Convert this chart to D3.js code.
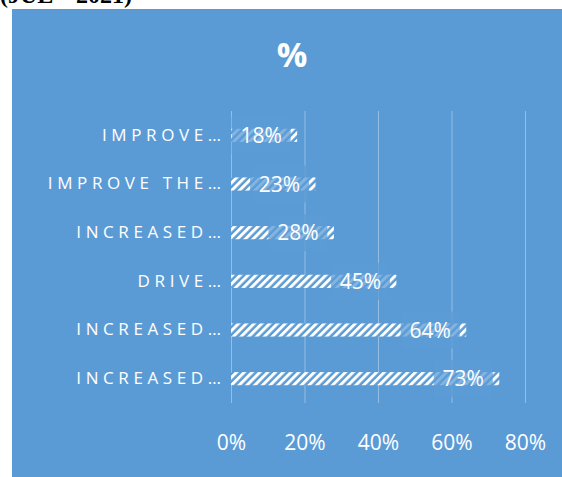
<!DOCTYPE html>
<html>
<head>
<meta charset="utf-8">
<script src="https://cdn.jsdelivr.net/npm/d3@7"></script>
<style>
    html, body { margin: 0; padding: 0; background: #ffffff; }
    svg { display: block; }
</style>
</head>
<body>
<div id="chart"></div>
<script>
// chart data, top to bottom as shown
const categories = ["IMPROVE…", "IMPROVE THE…", "INCREASED…", "DRIVE…", "INCREASED…", "INCREASED…"];
const values = [0.18, 0.23, 0.28, 0.45, 0.64, 0.73];
const xTicks = [0, 0.2, 0.4, 0.6, 0.8];
const chartTitle = "%";
const pageCaption = "(JUL – 2021)";

const width = 562;
const height = 477;
const panel = { x: 12, y: 9 };
const margin = ({ top: 111, right: 37, bottom: 74, left: 231 });
const blue = "#5B9BD5";

const svg = d3.select("#chart")
    .append("svg")
    .attr("width", width)
    .attr("height", height)
    .attr("viewBox", [0, 0, width, height]);

// caption of the page above the chart, cut off at the top
svg.append("text")
    .attr("x", 0)
    .attr("y", 3)
    .attr("font-family", "Liberation Serif")
    .attr("font-weight", "bold")
    .attr("font-size", 24)
    .attr("fill", "#000")
    .text(pageCaption);

svg.append("rect")
    .attr("x", panel.x)
    .attr("y", panel.y)
    .attr("width", width - panel.x)
    .attr("height", height - panel.y)
    .attr("fill", blue);

const defs = svg.append("defs");
const hatch = defs.append("pattern")
    .attr("id", "hatch")
    .attr("patternUnits", "userSpaceOnUse")
    .attr("width", 5.5)
    .attr("height", 5.5)
    .attr("patternTransform", "rotate(45)");
hatch.append("rect")
    .attr("width", 5.5)
    .attr("height", 5.5)
    .attr("fill", blue);
hatch.append("rect")
    .attr("width", 3)
    .attr("height", 5.5)
    .attr("fill", "#fff");

const xScale = d3.scaleLinear()
    .domain([0, 0.8])
    .range([margin.left, width - margin.right]);

const yScale = d3.scaleBand()
    .domain(d3.range(categories.length))
    .range([margin.top, height - margin.bottom])
    .paddingInner(0.73)
    .paddingOuter(0.365);

// gridlines
svg.append("g")
    .attr("transform", `translate(0,${height - margin.bottom})`)
    .call(d3.axisBottom(xScale)
        .tickValues(xTicks)
        .tickSize(-(height - margin.bottom - margin.top))
        .tickFormat(""))
    .call(g => g.select(".domain").remove())
    .call(g => g.selectAll("line")
        .attr("stroke", "#fff")
        .attr("stroke-opacity", 0.35));

// x tick labels
svg.append("g")
    .attr("transform", `translate(0,${height - margin.bottom})`)
    .call(d3.axisBottom(xScale)
        .tickValues(xTicks)
        .tickSize(0)
        .tickPadding(32)
        .tickFormat(d3.format(".0%")))
    .call(g => g.select(".domain").remove())
    .call(g => g.selectAll("text")
        .attr("fill", "#fff")
        .attr("font-family", "Open Sans")
        .attr("font-size", 21));

// category labels
const letterSpacing = 4.6;
svg.append("g")
    .attr("transform", `translate(${margin.left - 10 + letterSpacing},0)`)
    .call(d3.axisLeft(yScale)
        .tickSize(0)
        .tickPadding(0)
        .tickFormat(i => categories[i]))
    .call(g => g.select(".domain").remove())
    .call(g => g.selectAll("text")
        .attr("fill", "#fff")
        .attr("font-family", "Open Sans")
        .attr("font-size", 17)
        .attr("letter-spacing", letterSpacing));

// bars
svg.append("g")
    .selectAll("rect")
    .data(values)
    .join("rect")
    .attr("x", xScale(0))
    .attr("y", (d, i) => yScale(i))
    .attr("width", d => xScale(d) - xScale(0))
    .attr("height", yScale.bandwidth())
    .attr("fill", "url(#hatch)");

// data labels with their boxes
const labels = svg.append("g")
    .selectAll("g")
    .data(values)
    .join("g")
    .attr("transform", (d, i) => `translate(${xScale(d) - 36},${yScale(i) + yScale.bandwidth() / 2})`);

labels.append("rect")
    .attr("x", -29.5)
    .attr("y", -18.5)
    .attr("width", 59)
    .attr("height", 37)
    .attr("fill", blue)
    .attr("fill-opacity", 0.75);

labels.append("text")
    .attr("text-anchor", "middle")
    .attr("dy", "0.36em")
    .attr("fill", "#fff")
    .attr("font-family", "Open Sans")
    .attr("font-size", 21)
    .text(d => d3.format(".0%")(d));

// title
svg.append("text")
    .attr("x", 292)
    .attr("y", 67)
    .attr("text-anchor", "middle")
    .attr("fill", "#fff")
    .attr("font-family", "Open Sans")
    .attr("font-weight", "bold")
    .attr("font-size", 34)
    .text(chartTitle);
</script>
</body>
</html>
